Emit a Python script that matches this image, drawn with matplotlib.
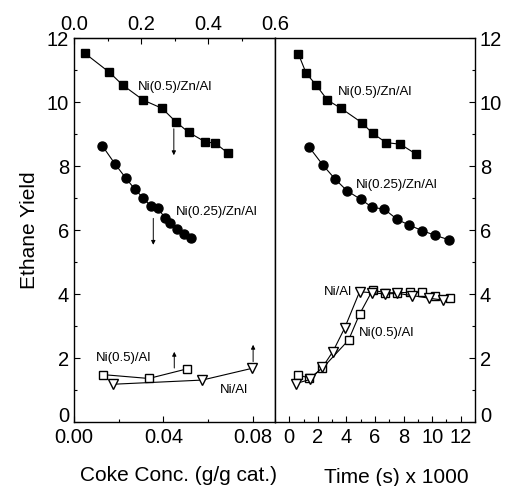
import matplotlib
matplotlib.use("Agg")
import matplotlib.pyplot as plt
from matplotlib.ticker import MultipleLocator

plt.rcParams['font.family'] = ['Liberation Sans', 'DejaVu Sans']

# --- left panel: yield vs coke concentration ---
coke_ni05zn = [0.0049, 0.0158, 0.0218, 0.0310, 0.0395, 0.0456, 0.0514, 0.0586, 0.0633, 0.0690]
yield_ni05zn_c = [11.52, 10.93, 10.53, 10.06, 9.80, 9.38, 9.05, 8.76, 8.71, 8.40]

coke_ni025zn = [0.0127, 0.0183, 0.0231, 0.0273, 0.0310, 0.0343, 0.0374, 0.0407, 0.0432, 0.0462, 0.0493, 0.0526]
yield_ni025zn_c = [8.63, 8.07, 7.63, 7.27, 7.00, 6.75, 6.70, 6.38, 6.21, 6.04, 5.88, 5.74]

coke_ni05al = [0.0131, 0.0335, 0.0506]
yield_ni05al_c = [1.48, 1.36, 1.66]

coke_nial = [0.0176, 0.0574, 0.0799]
yield_nial_c = [1.18, 1.31, 1.68]

# arrows (x, y_start, y_end)
arrows_left = [(0.0447, 9.25, 8.25), (0.0355, 6.45, 5.45), (0.0449, 1.6, 2.28), (0.0802, 1.8, 2.5)]

# --- right panel: yield vs time ---
t_ni05zn = [0.64, 1.18, 1.88, 2.67, 3.63, 5.09, 5.83, 6.79, 7.78, 8.88]
yield_ni05zn_t = [11.50, 10.90, 10.53, 10.06, 9.80, 9.35, 9.02, 8.73, 8.68, 8.37]

t_ni025zn = [1.41, 2.35, 3.21, 4.03, 4.99, 5.81, 6.65, 7.56, 8.36, 9.30, 10.23, 11.21]
yield_ni025zn_t = [8.58, 8.03, 7.59, 7.23, 6.96, 6.71, 6.65, 6.33, 6.16, 5.98, 5.83, 5.69]

t_ni05al = [0.64, 1.41, 2.32, 4.15, 4.92, 5.83, 6.72, 7.54, 8.43, 9.30, 10.23, 11.28]
yield_ni05al_t = [1.47, 1.37, 1.68, 2.56, 3.37, 4.12, 4.04, 4.04, 4.05, 4.05, 3.95, 3.87]

t_nial = [0.45, 1.46, 2.32, 3.05, 3.87, 4.92, 5.79, 6.72, 7.54, 8.62, 9.78, 10.75]
yield_nial_t = [1.20, 1.33, 1.71, 2.20, 2.93, 4.07, 4.04, 4.00, 4.02, 3.95, 3.87, 3.81]

W, H = 508, 486
fig = plt.figure(figsize=(W / 100, H / 100), dpi=100)
ax1 = fig.add_axes([74 / W, (H - 422) / H, 201 / W, 384 / H])
ax2 = fig.add_axes([275 / W, (H - 422) / H, 200 / W, 384 / H])

lw = 0.8
fsz = 14.5   # tick labels
lfs = 15     # axis labels
afs = 9.5    # annotations

def style(ax):
    for s in ax.spines.values():
        s.set_linewidth(1.0)
    ax.tick_params(which='both', direction='in', labelsize=fsz, width=0.8)
    ax.tick_params(which='major', length=4)
    ax.tick_params(which='minor', length=2.5)
    ax.tick_params(axis='x', pad=4)

# left panel
ax1.plot(coke_ni05zn, yield_ni05zn_c, 'ks-', lw=lw, ms=6)
ax1.plot(coke_ni025zn, yield_ni025zn_c, 'ko-', lw=lw, ms=6.5)
ax1.plot(coke_ni05al, yield_ni05al_c, 's-', color='k', mfc='white', lw=lw, ms=6)
ax1.plot(coke_nial, yield_nial_c, 'v-', color='k', mfc='white', lw=lw, ms=7)
for x, y0, y1 in arrows_left:
    ax1.annotate('', xy=(x, y1), xytext=(x, y0),
                 arrowprops=dict(arrowstyle='-|>', lw=0.7, color='k', mutation_scale=6))
ax1.text(0.0286, 10.47, 'Ni(0.5)/Zn/Al', fontsize=afs, va='center')
ax1.text(0.0456, 6.56, 'Ni(0.25)/Zn/Al', fontsize=afs, va='center')
ax1.text(0.0220, 2.0, 'Ni(0.5)/Al', fontsize=afs, va='center', ha='center')
ax1.text(0.0715, 1.0, 'Ni/Al', fontsize=afs, va='center', ha='center')

ax1.set_xlim(0, 0.09)
ax1.set_ylim(0, 12)
ax1.xaxis.set_major_locator(MultipleLocator(0.04))
ax1.xaxis.set_minor_locator(MultipleLocator(0.02))
ax1.xaxis.set_major_formatter(plt.FormatStrFormatter('%.2f'))
ax1.yaxis.set_major_locator(MultipleLocator(2))
ax1.yaxis.set_minor_locator(MultipleLocator(1))
ax1.set_ylabel('Ethane Yield', fontsize=lfs, labelpad=6)
style(ax1)
ax1.tick_params(right=False, which='both')

top = ax1.secondary_xaxis('top', functions=(lambda x: x / 0.15, lambda x: x * 0.15))
top.xaxis.set_major_locator(MultipleLocator(0.2))
top.xaxis.set_minor_locator(MultipleLocator(0.1))
top.xaxis.set_major_formatter(plt.FormatStrFormatter('%.1f'))
top.tick_params(which='both', direction='in', labelsize=fsz, width=0.8, pad=3)
top.tick_params(which='major', length=4)
top.tick_params(which='minor', length=2.5)

# right panel
ax2.plot(t_ni05zn, yield_ni05zn_t, 'ks-', lw=lw, ms=6)
ax2.plot(t_ni025zn, yield_ni025zn_t, 'ko-', lw=lw, ms=6.5)
ax2.plot(t_ni05al, yield_ni05al_t, 's-', color='k', mfc='white', lw=lw, ms=6)
ax2.plot(t_nial, yield_nial_t, 'v-', color='k', mfc='white', lw=lw, ms=7)
ax2.text(3.4, 10.32, 'Ni(0.5)/Zn/Al', fontsize=afs, va='center')
ax2.text(4.69, 7.4, 'Ni(0.25)/Zn/Al', fontsize=afs, va='center')
ax2.text(4.39, 4.07, 'Ni/Al', fontsize=afs, va='center', ha='right')
ax2.text(4.85, 2.78, 'Ni(0.5)/Al', fontsize=afs, va='center')

ax2.set_xlim(-1, 13)
ax2.set_ylim(0, 12)
ax2.xaxis.set_major_locator(MultipleLocator(2))
ax2.xaxis.set_minor_locator(MultipleLocator(1))
ax2.yaxis.set_major_locator(MultipleLocator(2))
ax2.yaxis.set_minor_locator(MultipleLocator(1))
style(ax2)
ax2.yaxis.tick_right()
ax2.tick_params(which='both', left=False, labelleft=False, top=False)

fig.text(178 / W, 1 - 475 / H, 'Coke Conc. (g/g cat.)', fontsize=lfs, ha='center', va='center')
fig.text(396 / W, 1 - 477 / H, 'Time (s) x 1000', fontsize=lfs, ha='center', va='center')

# the "0" labels on the y axes sit on the baseline, as in the original
fig.canvas.draw()
for ax in (ax1, ax2):
    for t in ax.yaxis.get_major_ticks():
        if t.get_loc() == 0:
            t.label1.set_va('baseline')
            t.label2.set_va('baseline')

fig.savefig('out.png', dpi=100)
